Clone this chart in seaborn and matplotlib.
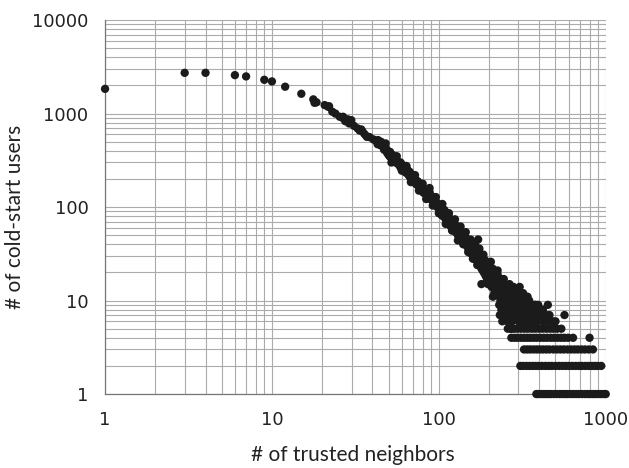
import pandas as pd
import matplotlib.pyplot as plt
import matplotlib.ticker as mticker
import seaborn as sns
import numpy as np

sns.set_style("white")
plt.rcParams['font.family'] = ['DejaVu Sans']

# Datos: cabeza dispersa (pocos vecinos)
head_x = [1, 3, 4, 6, 7, 9, 10, 12, 15, 17.7, 18, 18.5, 20.7, 21.7, 22, 23, 24, 25.5,
          26.5, 26.7, 27.5, 28.5, 29, 29.9, 31, 32.6, 33.5, 34.3, 35, 36, 37, 37.6,
          38.5, 40.5, 42, 43, 43.2, 44]
head_y = [1840, 2730, 2730, 2580, 2500, 2300, 2210, 1940, 1630, 1420, 1305, 1320, 1233, 1183, 1200, 1048, 1000, 925,
          900, 925, 830, 868, 785, 851, 740, 694, 660, 677, 638, 600, 565, 565,
          560, 530, 510, 470, 521, 500]

# Banda principal 45-100
band_x = [45, 45, 46, 47, 47, 48, 49, 49, 50, 51, 51, 52, 53, 53, 54, 55, 55, 56, 57, 57,
          58, 59, 59, 60, 61, 61, 62, 63, 63, 64, 65, 65, 66, 67, 67, 68, 69, 69, 70, 71,
          71, 72, 73, 73, 74, 75, 75, 76, 77, 77, 78, 79, 79, 80, 81, 81, 82, 83, 83, 84,
          85, 85, 86, 87, 87, 88, 89, 89, 90, 91, 91, 92, 93, 93, 94, 95, 95, 96, 97, 97,
          98, 99, 99, 100]
band_y = [455, 500, 470, 410, 445, 430, 380, 405, 360, 390, 345, 350, 325, 360, 310, 335, 300, 315, 290, 305,
          280, 300, 265, 275, 255, 280, 250, 260, 235, 240, 228, 250, 220, 238, 210, 215, 200, 222, 205, 190,
          210, 185, 195, 176, 182, 170, 188, 172, 160, 178, 165, 156, 170, 150, 158, 142, 148, 140, 152, 146,
          132, 140, 138, 128, 142, 146, 122, 132, 125, 118, 130, 129, 112, 120, 116, 106, 118, 110, 104, 112,
          100, 101, 108, 96]

# Puntos que ensanchan la banda
wide_x = [48, 52, 56, 60, 64, 68, 72, 76, 80, 84, 88, 92, 96, 100, 105, 110, 115, 120,
          125, 130, 135, 140, 145, 150, 155, 160, 165, 170, 175, 185, 195, 205, 215, 225,
          235, 245, 255, 265, 280, 300, 320, 340]
wide_y = [480, 300, 350, 245, 275, 185, 220, 150, 178, 122, 160, 104, 128, 86, 108, 66, 86, 56,
          74, 44, 62, 40, 54, 33, 45, 28, 40, 24, 36, 31, 16, 26, 12, 21,
          9, 17, 8, 15, 14, 13, 12, 11]

# Banda baja 100-385
low_x = [102, 102, 102, 104, 104, 106, 106, 106, 108, 108, 110, 110, 110, 112, 112,
         114, 114, 114, 116, 116, 118, 118, 118, 120, 120, 122, 122, 122, 124, 124,
         126, 126, 126, 128, 128, 130, 130, 130, 132, 132, 134, 134, 134, 136, 136,
         138, 138, 138, 140, 140, 142, 142, 142, 144, 144, 146, 146, 146, 148, 148,
         150, 150, 150, 153, 153, 153, 156, 156, 156, 159, 159, 159, 162, 162, 162,
         165, 165, 165, 168, 168, 168, 171, 171, 171, 174, 174, 174, 177, 177, 177,
         180, 180, 180, 183, 183, 183, 186, 186, 186, 189, 189, 189, 192, 192, 192,
         195, 195, 195, 198, 198, 198, 201, 201, 201, 204, 204, 204, 207, 207, 207,
         210, 210, 210, 213, 213, 213, 216, 216, 216, 219, 219, 219, 222, 222, 222,
         225, 225, 225, 228, 228, 228, 231, 231, 231, 234, 234, 234, 237, 237, 237,
         240, 240, 240, 244, 244, 244, 248, 248, 248, 252, 252, 252, 256, 256, 256,
         260, 260, 260, 264, 264, 264, 268, 268, 268, 272, 272, 272, 276, 276, 276,
         280, 280, 280, 285, 285, 285, 290, 290, 290, 295, 295, 295, 300, 300, 300,
         306, 306, 306, 312, 312, 312, 318, 318, 318, 325, 325, 325, 332, 332, 332,
         340, 340, 340, 348, 348, 348, 356, 356, 365, 365, 375, 375, 385, 385]
low_y = [92, 100, 86, 90, 82, 88, 95, 80, 93, 78, 82, 74, 88, 76, 84,
         72, 79, 68, 76, 70, 66, 73, 62, 68, 60, 64, 70, 58, 67, 61,
         59, 54, 64, 58, 62, 56, 50, 60, 54, 57, 51, 47, 55, 50, 53,
         48, 44, 52, 47, 50, 45, 41, 48, 48, 43, 42, 39, 46, 41, 44,
         40, 36, 44, 38, 34, 42, 36, 32, 40, 35, 31, 38, 33, 29, 37,
         32, 28, 35, 31, 27, 34, 29, 26, 33, 28, 25, 32, 27, 24, 31,
         26, 22, 29, 27, 21, 24, 25, 20, 28, 24, 19, 27, 23, 18, 26,
         22, 17, 25, 21, 24, 16, 20, 23, 16, 19, 22, 15, 20, 17, 14,
         19, 16, 22, 18, 14, 20, 17, 13, 19, 18, 15, 12, 17, 14, 12,
         16, 13, 19, 15, 12, 17, 16, 13, 11, 15, 12, 10, 14, 11, 17,
         13, 15, 10, 14, 11, 9, 13, 10, 15, 12, 14, 9, 13, 10, 8,
         12, 9, 14, 11, 13, 8, 12, 10, 8, 11, 9, 13, 10, 12, 8,
         11, 9, 7, 10, 12, 8, 9, 11, 7, 10, 8, 12, 9, 11, 7,
         8, 10, 12, 9, 7, 11, 8, 10, 6, 7, 9, 11, 8, 6, 10,
         7, 9, 6, 6, 8, 10, 7, 9, 8, 6, 7, 9, 8, 6]

# Puntos aislados
out_x = [172, 180, 197, 211, 272, 305, 450, 566, 800]
out_y = [45, 15, 15, 11, 5, 14, 9, 7, 4]

# Filas discretas de la cola (conteos pequeños)
row1_x = [384, 395, 410, 425, 440, 455, 470, 490, 510, 530, 550, 570, 590, 615, 640, 665,
          690, 720, 750, 780, 810, 840, 870, 905, 940, 975, 1000]
row2_x = [308, 320, 335, 350, 365, 380, 395, 415, 435, 455, 475, 500, 525, 550, 575, 600,
          630, 660, 690, 720, 755, 790, 825, 860, 895, 940]
row3_x = [324, 338, 352, 368, 385, 402, 420, 440, 460, 485, 510, 535, 560, 590, 620, 650,
          680, 715, 750, 790, 838]
row4_x = [272, 284, 296, 310, 324, 338, 352, 368, 385, 405, 425, 445, 468, 490, 515, 540,
          565, 595, 637]
row5_x = [259, 270, 282, 295, 310, 326, 342, 360, 378, 398, 418, 440, 462, 485, 510, 542]
row6_x = [240, 258, 275, 300, 330, 360, 390, 420, 450, 480, 500]
row7_x = [232, 250, 270, 290, 320, 350, 380, 410, 440, 460]
row8_x = [237, 260, 290, 330, 370, 400, 420]
row9_x = [230, 262, 300, 340, 380, 394]
rows = {1: row1_x, 2: row2_x, 3: row3_x, 4: row4_x, 5: row5_x,
        6: row6_x, 7: row7_x, 8: row8_x, 9: row9_x}

xs = head_x + band_x + wide_x + low_x + out_x
ys = head_y + band_y + wide_y + low_y + out_y
for level, rx in rows.items():
    xs = xs + rx
    ys = ys + [level] * len(rx)
df = pd.DataFrame({'vecinos': xs, 'usuarios': ys})

fig = plt.figure(figsize=(6.29, 4.68), dpi=100)
ax = fig.add_axes([0.167, 0.158, 0.796, 0.799])

sns.scatterplot(data=df, x='vecinos', y='usuarios', ax=ax, color='#1b1b1b',
                s=36, edgecolor='none', linewidth=0, clip_on=False, zorder=3)

ax.set_xscale('log')
ax.set_yscale('log')
ax.set_xlim(1, 1000)
ax.set_ylim(1, 10000)

ax.xaxis.set_major_locator(mticker.LogLocator(base=10, numticks=10))
ax.yaxis.set_major_locator(mticker.LogLocator(base=10, numticks=10))
ax.xaxis.set_minor_locator(mticker.LogLocator(base=10, subs=np.arange(2, 10), numticks=20))
ax.yaxis.set_minor_locator(mticker.LogLocator(base=10, subs=np.arange(2, 10), numticks=20))
ax.xaxis.set_major_formatter(mticker.FuncFormatter(lambda v, p: f'{int(round(v))}'))
ax.yaxis.set_major_formatter(mticker.FuncFormatter(lambda v, p: f'{int(round(v))}'))
ax.xaxis.set_minor_formatter(mticker.NullFormatter())
ax.yaxis.set_minor_formatter(mticker.NullFormatter())

ax.grid(True, which='both', color='#ababab', linewidth=0.8)
ax.set_axisbelow(True)
ax.tick_params(which='major', direction='out', length=6, width=0.8, color='#777777',
               labelsize=13, labelcolor='#222222', pad=6)
ax.tick_params(which='minor', length=0)

for side in ['top', 'right']:
    ax.spines[side].set_visible(False)
for side in ['left', 'bottom']:
    ax.spines[side].set_color('#777777')
    ax.spines[side].set_linewidth(0.9)

ax.set_xlabel('# of trusted neighbors', fontsize=15, family=['Lato', 'DejaVu Sans'],
              color='#222222')
ax.set_ylabel('# of cold-start users', fontsize=15, family=['Lato', 'DejaVu Sans'],
              color='#222222')
ax.xaxis.set_label_coords(0.494, -0.135)
ax.yaxis.set_label_coords(-0.16, 0.475)

plt.savefig('out.png', dpi=100)
plt.close()
